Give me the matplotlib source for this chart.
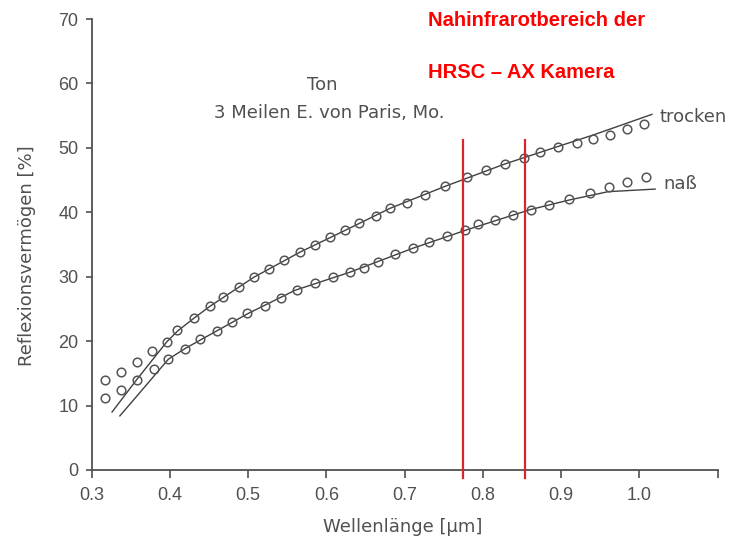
import matplotlib
matplotlib.use("Agg")
import matplotlib.pyplot as plt

# ---- data ----
trocken_x = [0.317, 0.337, 0.358, 0.377, 0.396, 0.409, 0.431, 0.451, 0.468, 0.488,
             0.507, 0.527, 0.546, 0.566, 0.586, 0.605, 0.624, 0.642, 0.663, 0.681,
             0.703, 0.726, 0.751, 0.779, 0.804, 0.828, 0.852, 0.873, 0.896, 0.920,
             0.941, 0.962, 0.984, 1.006]
trocken_y = [13.9, 15.2, 16.7, 18.4, 19.9, 21.7, 23.6, 25.4, 26.9, 28.4,
             29.9, 31.2, 32.6, 33.8, 35.0, 36.2, 37.3, 38.4, 39.5, 40.6,
             41.4, 42.7, 44.1, 45.4, 46.5, 47.5, 48.5, 49.3, 50.1, 50.8,
             51.3, 52.0, 52.9, 53.7]

nass_x = [0.317, 0.338, 0.358, 0.379, 0.398, 0.419, 0.438, 0.460, 0.479, 0.499,
          0.521, 0.542, 0.563, 0.586, 0.609, 0.630, 0.648, 0.666, 0.688, 0.711,
          0.731, 0.754, 0.777, 0.794, 0.815, 0.838, 0.862, 0.885, 0.910, 0.937,
          0.961, 0.984, 1.008]
nass_y = [11.1, 12.4, 14.0, 15.6, 17.2, 18.8, 20.3, 21.6, 22.9, 24.3,
          25.5, 26.7, 28.0, 29.1, 30.0, 30.7, 31.4, 32.3, 33.6, 34.4,
          35.4, 36.3, 37.3, 38.2, 38.8, 39.6, 40.4, 41.1, 42.1, 43.0,
          43.9, 44.7, 45.4]

trocken_fit_x = [0.326, 0.358, 0.396, 0.410, 0.430, 0.451, 0.507, 0.566, 0.624,
                 0.681, 0.751, 0.828, 0.898, 0.941, 1.016]
trocken_fit_y = [9.0, 14.1, 19.9, 21.6, 23.5, 25.4, 29.9, 33.8, 37.2,
                 40.6, 44.0, 47.5, 50.3, 52.0, 55.2]

nass_fit_x = [0.336, 0.360, 0.398, 0.420, 0.460, 0.500, 0.560, 0.630, 0.710,
              0.780, 0.860, 0.910, 0.960, 1.020]
nass_fit_y = [8.4, 11.8, 17.2, 18.9, 21.6, 24.3, 27.9, 30.7, 34.4,
              37.3, 40.4, 41.9, 43.2, 43.6]

band_edges = [0.775, 0.854]
band_top = 51.2
band_bottom = -1.2

x_ticks = [0.3, 0.4, 0.5, 0.6, 0.7, 0.8, 0.9, 1.0, 1.1]
x_ticklabels = ["0.3", "0.4", "0.5", "0.6", "0.7", "0.8", "0.9", "1.0", ""]
y_ticks = [0, 10, 20, 30, 40, 50, 60, 70]
y_ticklabels = ["0", "10", "20", "30", "40", "50", "60", "70"]

# ---- figure ----
W, H = 734, 540
fig = plt.figure(figsize=(W / 100, H / 100), dpi=100)
left, right, bottom, top = 91.7, 717.7, 470, 19
ax = fig.add_axes([left / W, 1 - bottom / H, (right - left) / W, (bottom - top) / H])

grey = "#505050"
ax.set_xlim(0.3, 1.1)
ax.set_ylim(0, 70)

ax.plot(trocken_fit_x, trocken_fit_y, color="#404040", lw=1.0, zorder=2)
ax.plot(nass_fit_x, nass_fit_y, color="#404040", lw=1.0, zorder=2)
ax.plot(trocken_x, trocken_y, ls="none", marker="o", ms=6.2, mfc="none",
        mec="#555555", mew=1.1, zorder=3)
ax.plot(nass_x, nass_y, ls="none", marker="o", ms=6.2, mfc="none",
        mec="#555555", mew=1.1, zorder=3)

for xe in band_edges:
    ax.plot([xe, xe], [band_bottom, band_top], color="#d8262b", lw=1.6,
            clip_on=False, zorder=4)

for s in ["top", "right"]:
    ax.spines[s].set_visible(False)
for s in ["left", "bottom"]:
    ax.spines[s].set_color(grey)
    ax.spines[s].set_linewidth(1.3)

ax.set_xticks(x_ticks)
ax.set_xticklabels(x_ticklabels)
ax.set_yticks(y_ticks)
ax.set_yticklabels(y_ticklabels)
ax.tick_params(axis="x", length=6, width=1.2, color=grey, pad=6,
               labelsize=13, labelcolor=grey)
ax.tick_params(axis="y", length=4.5, width=1.2, color=grey, pad=5,
               labelsize=13, labelcolor=grey)
for lab in ax.get_xticklabels() + ax.get_yticklabels():
    lab.set_family("Liberation Sans")

def fx(px):
    return px / W

def fy(py):
    return 1 - py / H

tf = dict(family="DejaVu Sans", color=grey, fontsize=13)
fig.text(fx(402.5), fy(527), "Wellenlänge [µm]", ha="center", va="center", **tf)
fig.text(fx(27), fy(256), "Reflexionsvermögen [%]", ha="center", va="center",
         rotation=90, **tf)
fig.text(fx(322.5), fy(85), "Ton", ha="center", va="center", **tf)
fig.text(fx(329), fy(113), "3 Meilen E. von Paris, Mo.", ha="center", va="center", **tf)
fig.text(fx(660), fy(117), "trocken", ha="left", va="center", **tf)
fig.text(fx(663), fy(184), "naß", ha="left", va="center", **tf)

rf = dict(family="Liberation Sans", color="#ff0000", fontsize=14.5, fontweight="bold")
fig.text(fx(428), fy(21), "Nahinfrarotbereich der", ha="left", va="center", **rf)
fig.text(fx(428), fy(72), "HRSC – AX Kamera", ha="left", va="center", **rf)

fig.savefig("out.png", dpi=100)
